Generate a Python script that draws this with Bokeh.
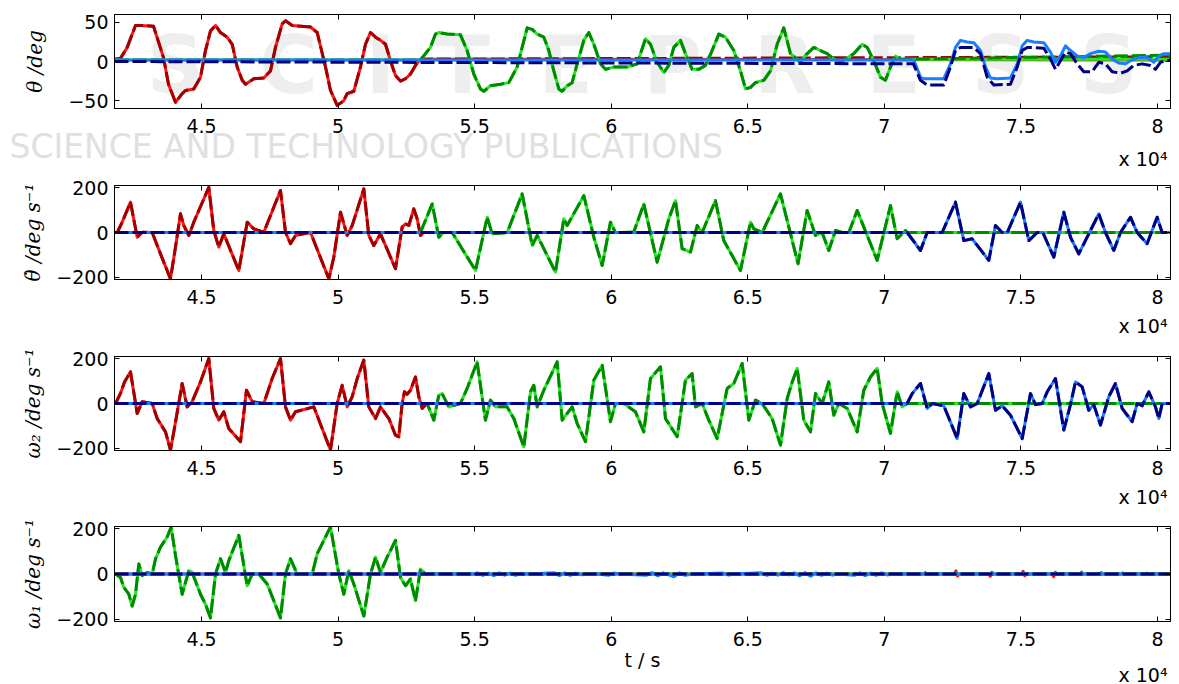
from bokeh.plotting import figure
from bokeh.layouts import column
from bokeh.models import FixedTicker, LinearAxis, Label, Range1d, Title
from bokeh.embed import file_html
from bokeh.resources import INLINE

# ---------------- axes / labels ----------------
X_START, X_END = 41815, 80476
X_TICKS = [45000, 50000, 55000, 60000, 65000, 70000, 75000, 80000]
X_TICK_LABELS = ["4.5", "5", "5.5", "6", "6.5", "7", "7.5", "8"]
X_EXP_LABEL = "x 10⁴"
X_AXIS_LABEL = "t / s"
Y_LABELS = ["θ /deg", "θ̇ /deg s⁻¹", "ω₂ /deg s⁻¹", "ω₁ /deg s⁻¹"]
Y_LIMITS = [(-60, 60), (-209, 209), (-209, 209), (-209, 209)]
Y_TICKS = [[-50, 0, 50], [-200, 0, 200], [-200, 0, 200], [-200, 0, 200]]
Y_TICK_LABELS = [["−50", "0", "50"], ["−200", "0", "200"], ["−200", "0", "200"], ["−200", "0", "200"]]

# ---------------- panel 1: theta (deg) ----------------
TH_RED_T = [42035, 42280, 42584, 42767, 43243, 43609, 43792, 44048, 44293, 44414, 44718, 44963,
            45146, 45329, 45513, 45695, 45940, 46124, 46307, 46490, 46611, 46916, 47281, 47526,
            47709, 47954, 48075, 48320, 48991, 49236, 49540, 49723, 49968, 50210, 50332, 50577,
            50820, 51004, 51187, 51370, 51553, 51736, 51919, 52102, 52285, 52468, 52651, 52834, 53017]
TH_RED_V = [4, 18, 46, 46, 45, 5, -29, -52, -41, -37, -35, -20,
            14, 39, 46, 37, 31, 22, -7, -24, -29, -22, -21, -12,
            18, 48, 52, 46, 44, 37, -7, -37, -56, -50, -41, -38,
            -7, 22, 37, 31, 27, 22, 1, -18, -25, -22, -16, -5, 3]
TH_GREEN_T = [53017, 53383, 53566, 53688, 53993, 54481, 54725, 54969, 55213, 55335, 55580, 55946,
              56251, 56556, 56740, 56923, 57106, 57289, 57533, 57716, 57899, 58082, 58204, 58387,
              58570, 58753, 58997, 59180, 59363, 59607, 59790, 60095, 60583, 60949, 61255, 61438,
              61682, 61926, 62109, 62292, 62536, 62719, 62963, 63207, 63451, 63695, 63939, 64183,
              64488, 64733, 64916, 65099, 65282, 65587, 65831, 66075, 66318, 66563, 66807, 66929,
              67112, 67417, 67661, 67907, 68149, 68394, 68881, 69189, 69372, 69613, 69859, 70041,
              70224, 70407, 70590]
TH_GREEN_V = [2, 18, 35, 37, 35, 34, 14, -16, -35, -38, -31, -29,
              -27, -7, 18, 43, 41, 35, 31, 14, -12, -35, -38, -31,
              -27, -3, 27, 37, 22, -3, -10, -7, -7, -3, 29, 22,
              -1, -14, -5, 18, 27, 10, -10, -10, -5, 14, 35, 31,
              14, -12, -35, -33, -27, -24, -12, 22, 43, 10, 3, -1,
              8, 18, 14, 10, 3, -1, 10, 22, 18, 1, -20, -24,
              -7, 7, 3]
TH_BLUE_T = [71078, 71323, 71444, 72176, 72421, 72604, 72787, 73032, 73274, 73519, 73702, 73885,
             74131, 74618, 74864, 75047, 75230, 75471, 75837, 76082, 76265, 76448, 76631, 76814,
             77059, 77301, 77546, 77850, 78095, 78341, 78582, 78828, 79011, 79315, 79623, 79864,
             80047, 80230]
TH_BLUE_V = [2, -20, -22, -22, -3, 18, 27, 25, 24, 14, -7, -21,
             -22, -21, -3, 20, 27, 25, 24, 12, -1, 7, 20, 14,
             7, 5, 10, 13, 12, 3, -2, -3, 1, 5, 5, -1,
             7, 10]
TH_BLUE_REF_T = [71063, 71323, 71568, 72176, 72421, 72604, 72787, 73274, 73519, 73764, 74006, 74618,
                 74864, 75047, 75230, 75837, 76082, 76265, 76448, 76631, 76814, 77059, 77301, 77607,
                 77850, 78095, 78341, 78644, 78889, 79130, 79438, 79742, 79925, 80108]
TH_BLUE_REF_V = [-3, -24, -30, -30, -7, 14, 18, 18, 10, -20, -30, -29,
                 -7, 14, 18, 17, 3, -10, 1, 12, 10, -3, -13, -13,
                 -1, -3, -13, -15, -12, -5, -3, -5, -10, -1]
# resting levels of each joint in panel 1: (measured before, measured after, ref before, ref after)
TH_RED_REST = (3, 2, 3, 6)
TH_GREEN_REST = (2, 3, 2, 8)
TH_BLUE_REST = (2, 10, 0, 2)

# ---------------- panel 2: theta dot (deg/s) ----------------
TD_RED_T = [41914, 42097, 42400, 42646, 42829, 43195, 43499, 43865, 44048, 44231, 44352, 44535,
            44718, 45267, 45450, 45633, 45816, 46366, 46673, 46915, 47281, 47892, 48075, 48258,
            48441, 48990, 49661, 49844, 50089, 50334, 50517, 50942, 51125, 51308, 51553, 52102,
            52348, 52468, 52590, 52773, 52895, 53017, 53139]
TD_RED_V = [0, 46, 135, -21, 1, 0, -95, -206, -65, 83, 31, -13,
            46, 201, 9, -65, -6, -169, 46, 16, 1, 187, 1, -50,
            -13, 1, -206, -110, 90, -13, 31, 194, -13, -58, -6, -161,
            24, 39, 31, 105, 61, -13, 0]
TD_GREEN_T = [53017, 53446, 53688, 53871, 54177, 55031, 55459, 55642, 56192, 56741, 57107, 57290,
              57960, 58265, 58388, 58998, 59364, 59669, 59973, 60156, 60339, 60827, 61193, 61682,
              62109, 62353, 62597, 62902, 63146, 63329, 63816, 64121, 64733, 65099, 65221, 65527,
              66197, 66840, 67173, 67478, 67722, 67966, 68211, 68455, 68700, 69005, 69737, 70224,
              70468, 70774, 70835]
TD_GREEN_V = [0, 127, -21, 0, 0, -169, 68, -6, 0, 172, -58, -13,
              -176, 61, 31, 164, -21, -147, 46, 0, 0, 2, 127, -132,
              61, 142, -72, -87, 31, 0, 142, -36, -169, 46, 16, 0,
              172, -139, 98, -13, 0, -80, 9, 0, 0, 98, -124, 120,
              -28, 9, 0]
TD_BLUE_T = [70835, 71323, 71567, 72116, 72604, 72909, 73214, 73824, 74069, 74313, 74500, 74984,
             75289, 75594, 75800, 76204, 76570, 76814, 77118, 77546, 77850, 78095, 78400, 78644,
             79010, 79254, 79620, 79986, 80169]
TD_BLUE_V = [0, -80, 0, 0, 135, -36, -28, -124, 31, 0, 0, 135,
             -36, 0, 0, -110, 90, -21, -95, 9, 83, 0, -80, 0,
             68, 0, -50, 68, 0]

# ---------------- panel 3: omega 2 (deg/s) ----------------
W2_RED_T = [41852, 42035, 42181, 42400, 42646, 42829, 43195, 43378, 43682, 43865, 43987, 44292,
            44475, 44658, 44963, 45267, 45450, 45633, 45816, 45999, 46428, 46647, 46856, 47281,
            47587, 47892, 48075, 48258, 48441, 49112, 49418, 49722, 49967, 50150, 50334, 50517,
            50700, 50942, 51125, 51370, 51553, 51860, 52102, 52224, 52346, 52431, 52529, 52651,
            52834, 52956, 53078, 53261]
W2_RED_V = [0, 45, 96, 141, -44, 8, 0, -67, -126, -207, -126, 89,
            -15, 8, 96, 200, -22, -74, -37, -111, -170, 59, 8, 0,
            111, 200, -15, -74, -37, -15, -111, -207, 0, 81, -15, 30,
            111, 193, -15, -67, -15, -67, -141, -148, 0, 52, 41, 59,
            118, 30, -22, 0]
W2_GREEN_T = [53261, 53505, 53688, 53810, 54054, 54481, 54725, 55091, 55395, 55580, 55763, 56190,
              56434, 56800, 57045, 57167, 57289, 57533, 58022, 58205, 58388, 58571, 58754, 59058,
              59363, 59669, 59973, 60156, 60461, 60889, 61193, 61438, 61804, 61987, 62415, 62719,
              62963, 63085, 63329, 63573, 63878, 64244, 64488, 64794, 65038, 65282, 65526, 65892,
              66197, 66443, 66626, 66809, 67051, 67296, 67479, 67724, 67966, 68149, 68332, 68639,
              69005, 69247, 69492, 69737, 69920, 70224, 70469, 70652, 70835]
W2_GREEN_V = [0, -74, 37, 44, -15, 0, 67, 185, -74, 15, -15, -15,
              -67, -193, 52, 81, -15, 59, 185, -74, -44, -15, -89, -170,
              104, 170, -81, 0, 0, -37, -126, 111, 163, -67, -148, 104,
              133, -15, 0, -74, -156, 67, 89, 178, -74, 15, 0, -67,
              -185, 22, 96, 156, -74, -126, 44, 0, 96, -52, 0, -22,
              -126, 59, 118, 156, 0, -133, 52, -15, 0]
W2_BLUE_T = [70835, 71018, 71323, 71568, 71751, 72176, 72666, 72909, 73154, 73400, 73824, 74069,
             74314, 74618, 75047, 75350, 75533, 75779, 75962, 76265, 76570, 76814, 76997, 77242,
             77484, 77667, 77912, 78216, 78461, 78706, 79072, 79255, 79438, 79681, 79926, 80047,
             80172]
W2_BLUE_V = [0, 44, 89, -22, 0, -10, -156, 44, -15, 0, 133, -30,
             -10, -52, -156, 44, -5, 0, 52, 111, -118, -5, 96, 74,
             -30, -5, -96, 30, 89, -22, -81, 0, -10, 52, -15, -67,
             0]

# ---------------- panel 4: omega 1 (deg/s) ----------------
W1_GREEN_T = [41852, 42035, 42157, 42340, 42462, 42584, 42706, 42829, 43012, 43195, 43317, 43499,
              43743, 43889, 44048, 44292, 44536, 44658, 44963, 45146, 45329, 45513, 45696, 45879,
              46000, 46366, 46672, 46856, 47100, 47405, 47648, 47892, 48075, 48258, 48503, 49052,
              49236, 49722, 50027, 50210, 50393, 50577, 50943, 51187, 51370, 51553, 51797, 52102,
              52285, 52468, 52651, 52834, 53017, 53200]
W1_GREEN_V = [0, -15, -59, -89, -141, -89, 44, -7, 7, 0, 67, 118,
              163, 207, 81, -89, 15, 7, -89, -133, -193, 0, 67, 7,
              59, 170, -52, 0, 0, -44, -118, -193, 0, 67, 0, 0,
              89, 207, 0, -89, 15, -44, -185, 0, 74, 7, 74, 148,
              -15, -52, -22, -118, 22, 0]
W1_BLUE_T = [53300, 55000, 55100, 55300, 55500, 55700, 55900, 56100, 56300, 56500, 56700, 57000,
             57900, 58100, 58300, 58500, 58700, 58900, 59500, 59900, 60100, 60300, 61300, 61500,
             61700, 61900, 62100, 62300, 62500, 62700, 63000, 64100, 64300, 64500, 65500, 65700,
             65900, 66100, 66300, 66500, 66700, 66900, 67100, 67300, 67500, 67700, 67900, 68100,
             68300, 68900, 69100, 69300, 69500, 69700, 69900, 70100, 70300]
W1_BLUE_V = [0, 0, 5, -6, 4, -7, 5, -5, 4, -6, 3, 0,
             6, -7, 5, -6, 4, -3, 0, -6, 4, 0, -5, 6,
             -8, 5, -4, -12, 5, -6, 0, 4, -5, 0, 5, -6,
             4, -5, 6, -4, 5, -8, 6, -10, 5, -6, 4, -5,
             0, -6, 5, -7, 4, -6, 5, -4, 0]
W1_RED_T = [71450, 71500, 71560, 72560, 72620, 72680, 72740, 73820, 73880, 73940, 74000,
            75020, 75080, 75140, 75200, 76140, 76200, 76260, 76320, 77160, 77220, 77280,
            77880, 77940, 78000, 78660, 78720, 78780, 79560, 79620, 79680]
W1_RED_V = [0, 6, 0, 0, 14, -9, 0, 0, -10, 7, 0,
            0, 12, -8, 0, 0, -12, 8, 0, 0, 8, 0,
            0, 6, 0, 0, 5, 0, 0, 4, 0]

# ---------------- colours ----------------
RED_MEAS, RED_REF = "#ff1414", "#a00000"
GREEN_MEAS, GREEN_REF = "#22e622", "#008a00"
BLUE_MEAS, BLUE_REF = "#1a7dff", "#000080"

WATERMARK_BIG = "SCITEPRESS"
WATERMARK_SMALL = "SCIENCE AND TECHNOLOGY PUBLICATIONS"

FIG_W = 1179
# (top border, frame height, bottom border) of each panel, in pixels
PANEL_BOXES = [(14, 94, 67), (10, 94, 67), (10, 94, 66), (10, 95, 63)]
EXP_STANDOFF = [-20, 15, 14, -22]
FRAME_LEFT, FRAME_RIGHT_PAD = 114, 9
TICK_FONT = "DejaVu Sans"


def full(t, v, before, after):
    return [X_START] + list(t) + [X_END], [before] + list(v) + [after]


def flat(level):
    return [X_START, X_END], [level, level]


def style(ax, ticks, labels, show):
    ax.ticker = FixedTicker(ticks=ticks)
    ax.major_label_overrides = {k: s for k, s in zip(ticks, labels)}
    ax.major_tick_in = 5
    ax.major_tick_out = 0
    ax.minor_tick_in = 0
    ax.minor_tick_out = 0
    ax.axis_line_color = "black"
    ax.major_tick_line_color = "black"
    ax.major_label_text_font = TICK_FONT
    if show:
        ax.major_label_text_color = "black"
        ax.major_label_text_font_size = "19px"
    else:
        ax.major_label_text_color = None
        ax.major_label_text_font_size = "1px"
        ax.major_label_standoff = 0


def make_panel(i):
    tb, fh, bb = PANEL_BOXES[i]
    y0, y1 = Y_LIMITS[i]
    p = figure(width=FIG_W, height=tb + fh + bb, x_range=Range1d(X_START, X_END), y_range=Range1d(y0, y1),
               output_backend="svg", toolbar_location=None,
               min_border_left=FRAME_LEFT, min_border_right=FRAME_RIGHT_PAD,
               min_border_top=tb, min_border_bottom=bb)
    p.xgrid.visible = False
    p.ygrid.visible = False
    p.outline_line_color = "black"
    p.background_fill_color = "white"
    p.border_fill_color = "white"

    xa = p.xaxis[0]
    ya = p.yaxis[0]
    style(xa, X_TICKS, X_TICK_LABELS, True)
    xa.major_label_standoff = 10
    style(ya, Y_TICKS[i], Y_TICK_LABELS[i], True)
    ya.major_label_standoff = 6
    ya.axis_label = Y_LABELS[i]
    ya.axis_label_text_font = "DejaVu Serif"
    ya.axis_label_text_font_style = "italic"
    ya.axis_label_text_font_size = "20px"
    ya.axis_label_text_color = "black"
    ya.axis_label_standoff = 8 if i else 18
    top = LinearAxis()
    style(top, X_TICKS, X_TICK_LABELS, False)
    p.add_layout(top, "above")
    right = LinearAxis()
    style(right, Y_TICKS[i], Y_TICK_LABELS[i], False)
    p.add_layout(right, "right")
    return p, xa, ya


def exp_title(standoff):
    return Title(text=X_EXP_LABEL, align="right", vertical_align="middle", offset=3,
                 standoff=standoff, text_font=TICK_FONT, text_font_style="normal",
                 text_font_size="19px", text_color="black")


def draw(p, xs, ys, color, dashed):
    p.line(xs, ys, line_color=color, line_width=3, line_dash="14 4" if dashed else "solid",
           line_join="round")


made = [make_panel(i) for i in range(4)]
panels = [m[0] for m in made]

# ---- watermark (panel 1) ----
p1 = panels[0]
big_centres = [175, 288, 380, 462, 565, 672, 784, 893, 1000, 1108]
for ch, cx in zip(WATERMARK_BIG, big_centres):
    p1.add_layout(Label(x=X_START, y=0, x_offset=cx - FRAME_LEFT, y_offset=-4,
                        text=ch, text_align="center", text_baseline="middle", text_font="DejaVu Sans",
                        text_font_style="bold", text_font_size="80px", text_color="#eeeeee",
                        level="underlay"))
p1.add_layout(Title(text=WATERMARK_SMALL, align="left", vertical_align="middle", offset=-105,
                    standoff=-20, text_font="DejaVu Sans", text_font_style="normal",
                    text_font_size="33px", text_color="#e0e0e0"), "below")
for p, s in zip(panels[:3], EXP_STANDOFF[:3]):
    p.add_layout(exp_title(s), "below")

# ---- panel 1 ----
x, y = full(TH_RED_T, TH_RED_V, TH_RED_REST[0], TH_RED_REST[1]); draw(p1, x, y, RED_MEAS, False)
x, y = full(TH_RED_T, TH_RED_V, TH_RED_REST[2], TH_RED_REST[3]); draw(p1, x, y, RED_REF, True)
x, y = full(TH_GREEN_T, TH_GREEN_V, TH_GREEN_REST[0], TH_GREEN_REST[1]); draw(p1, x, y, GREEN_MEAS, False)
x, y = full(TH_GREEN_T, TH_GREEN_V, TH_GREEN_REST[2], TH_GREEN_REST[3]); draw(p1, x, y, GREEN_REF, True)
x, y = full(TH_BLUE_T, TH_BLUE_V, TH_BLUE_REST[0], TH_BLUE_REST[1]); draw(p1, x, y, BLUE_MEAS, False)
x, y = full(TH_BLUE_REF_T, TH_BLUE_REF_V, TH_BLUE_REST[2], TH_BLUE_REST[3]); draw(p1, x, y, BLUE_REF, True)

# ---- panels 2 & 3 ----
for p, (rt, rv), (gt, gv), (bt, bv) in [
        (panels[1], (TD_RED_T, TD_RED_V), (TD_GREEN_T, TD_GREEN_V), (TD_BLUE_T, TD_BLUE_V)),
        (panels[2], (W2_RED_T, W2_RED_V), (W2_GREEN_T, W2_GREEN_V), (W2_BLUE_T, W2_BLUE_V))]:
    for (tt, vv), cm, cr in [((rt, rv), RED_MEAS, RED_REF), ((gt, gv), GREEN_MEAS, GREEN_REF),
                             ((bt, bv), BLUE_MEAS, BLUE_REF)]:
        x, y = full(tt, vv, 0, 0)
        draw(p, x, y, cm, False)
        draw(p, x, y, cr, True)

# ---- panel 4 ----
p4, xa4, _ = made[3]
x, y = full(W1_RED_T, W1_RED_V, 0, 0); draw(p4, x, y, RED_MEAS, False)
x, y = flat(0); draw(p4, x, y, RED_REF, True)
x, y = full(W1_GREEN_T, W1_GREEN_V, 0, 0); draw(p4, x, y, GREEN_MEAS, False); draw(p4, x, y, GREEN_REF, True)
x, y = full(W1_BLUE_T, W1_BLUE_V, 0, 0); draw(p4, x, y, BLUE_MEAS, False)
x, y = flat(0); draw(p4, x, y, BLUE_REF, True)
xa4.axis_label = X_AXIS_LABEL
xa4.axis_label_text_font = TICK_FONT
xa4.axis_label_text_font_style = "normal"
xa4.axis_label_text_font_size = "19px"
xa4.axis_label_text_color = "black"
xa4.axis_label_standoff = 0
p4.add_layout(exp_title(EXP_STANDOFF[3]), "below")

layout = column(*panels, spacing=0)
open("out.html", "w").write(file_html(layout, INLINE))
